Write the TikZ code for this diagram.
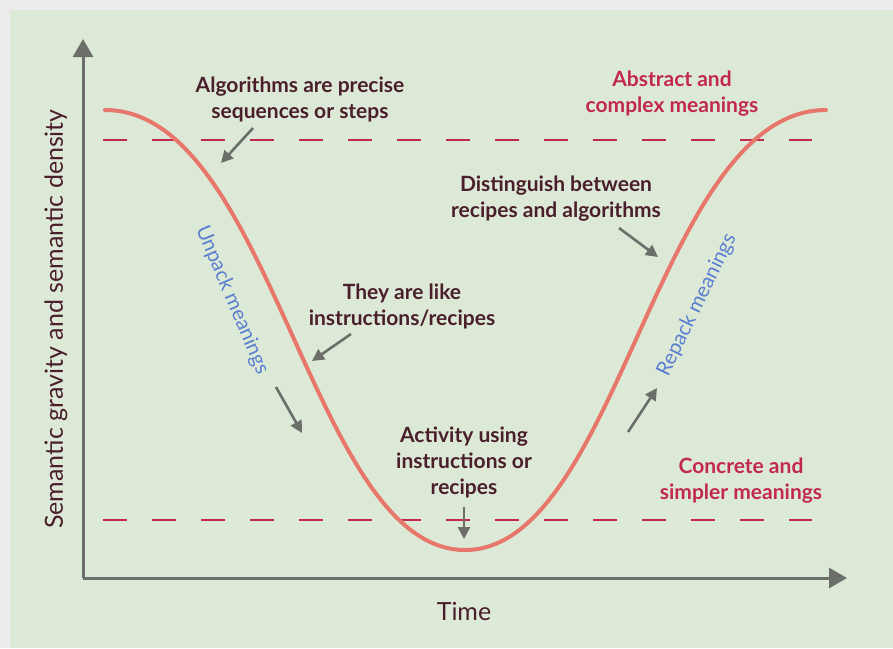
\documentclass[tikz,border=0pt]{standalone}
\usepackage{fontspec}
\setmainfont{Lato}
\usetikzlibrary{arrows.meta}
\definecolor{bggreen}{HTML}{DDE9D7}
\definecolor{framegrey}{HTML}{ECECEC}
\definecolor{axisgrey}{HTML}{6B6E69}
\definecolor{curvered}{HTML}{E8776B}
\definecolor{dashred}{HTML}{C2284F}
\definecolor{textdark}{HTML}{4A1F2B}
\definecolor{textblue}{HTML}{5B7FD0}
\begin{document}
\begin{tikzpicture}[x=1pt, y=-1pt,
    note/.style={font=\bfseries\fontsize{21}{26}\selectfont, text=textdark, align=center, inner sep=0pt},
    level/.style={note, text=dashred},
    phase/.style={font=\fontsize{20.5}{22}\selectfont, text=textblue, inner sep=0pt},
    axislabel/.style={font=\fontsize{25}{28}\selectfont, text=textdark, inner sep=0pt},
    pointer/.style={draw=axisgrey, line width=2.6pt, -{Triangle[length=12pt,width=12pt]}},
    axis/.style={draw=axisgrey, line width=3pt, -{Triangle[length=18pt,width=20pt]}},
    guide/.style={draw=dashred, line width=2.2pt, dash pattern=on 24pt off 25pt},
    trend/.style={draw=curvered, line width=4pt, line cap=round}]
    \useasboundingbox (0,0) rectangle (893,648);
    \fill[framegrey] (0,0) rectangle (893,648);
    \fill[bggreen] (10,10) rectangle (893,648);

    % axes
    \coordinate (origin) at (83,578);
    \coordinate (ytip) at (83,39);
    \coordinate (xtip) at (847,578);
    \draw[axis] (origin) -- (ytip);
    \draw[axis] (origin) -- (xtip);
    \node[axislabel] (time) at (464,611) {Time};
    \node[axislabel, rotate=90] (gravity) at (56,319) {Semantic gravity and semantic density};

    % levels
    \coordinate (hiL) at (103,140);
    \coordinate (hiR) at (812,140);
    \coordinate (loL) at (103,520);
    \coordinate (loR) at (812,520);
    \draw[guide] (hiL) -- (hiR);
    \draw[guide] (loL) -- (loR);

    % wave
    \coordinate (start) at (105,110);
    \coordinate (bottom) at (465,550);
    \coordinate (end) at (826,110);
    \draw[trend] (start) .. controls (272,110) and (311,550) .. (bottom)
                 .. controls (619,550) and (658,110) .. (end);

    % texts
    \node[note] (precise) at (300,99) {Algorithms are precise\\sequences or steps};
    \node[level] (abstract) at (672,94) {Abstract and\\complex meanings};
    \node[note] (distinguish) at (556,199) {Distinguish between\\recipes and algorithms};
    \node[note] (like) at (402,306) {They are like\\instructions/recipes};
    \node[note] (activity) at (464,462) {Activity using\\instructions or\\recipes};
    \node[level] (concrete) at (741,481) {Concrete and\\simpler meanings};
    \node[phase, rotate=-67] (unpack) at (232,300) {Unpack meanings};
    \node[phase, rotate=64] (repack) at (697,305) {Repack meanings};

    % pointers
    \coordinate (a1) at (253,128);  \coordinate (b1) at (221,163);
    \coordinate (a2) at (619,228);  \coordinate (b2) at (658,257);
    \coordinate (a3) at (351,334);  \coordinate (b3) at (312,361);
    \coordinate (a4) at (276,387);  \coordinate (b4) at (302,433);
    \coordinate (a5) at (628,432);  \coordinate (b5) at (657,388);
    \coordinate (a6) at (464,507);  \coordinate (b6) at (464,539);
    \path (a1) edge[pointer] (b1) % precise
          (a2) edge[pointer] (b2) % distinguish
          (a3) edge[pointer] (b3) % like
          (a4) edge[pointer] (b4) % unpack
          (a5) edge[pointer] (b5) % repack
          (a6) edge[pointer] (b6); % activity
\end{tikzpicture}
\end{document}
